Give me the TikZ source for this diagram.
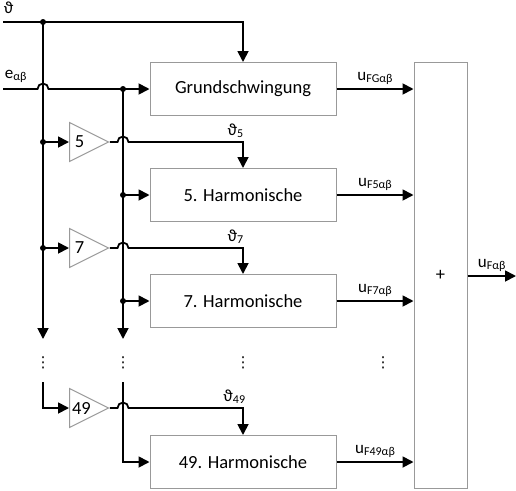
\documentclass[tikz,border=0pt]{standalone}
\usepackage{fontspec}
\setmainfont{Carlito}
\newfontfamily\symfont{DejaVu Sans}
\usetikzlibrary{arrows.meta,shapes.geometric,calc}

\newcommand\sig[2]{#1\raisebox{-1.5pt}{\fontsize{12}{14}\selectfont #2}}

\begin{document}
\begin{tikzpicture}[x=1pt,y=-1pt, line width=1.8pt,
  >={Triangle[length=11pt,width=11pt]},
  font=\fontsize{18.5}{22}\selectfont,
  blk/.style={draw=black!40, line width=1pt, minimum width=186pt, minimum height=53pt, inner sep=0pt},
  amp/.style={draw=black!40, line width=1pt, isosceles triangle, isosceles triangle stretches,
    minimum width=39pt, minimum height=39pt, inner sep=0pt, anchor=west},
  lbl/.style={inner sep=1pt, font=\fontsize{17}{20}\selectfont},
  dot/.style={circle, fill, inner sep=0pt, minimum size=6pt},
  cont/.style={font=\symfont\fontsize{15}{18}\selectfont, inner sep=0pt}]
\useasboundingbox (0,0) rectangle (516,490);

% blocks
\node[blk] (g) at (243,89) {Grundschwingung};
\node[blk] (h5) at (243,195) {5. Harmonische};
\node[blk] (h7) at (243,301) {7. Harmonische};
\node[blk] (h49) at (243,462) {49. Harmonische};
\node[draw=black!40, line width=1pt, minimum width=53pt, minimum height=426pt] (sum) at (440.5,275) {+};

% gains
\node[amp] (k5) at (69,142) {5};
\node[amp] (k7) at (69,248) {7};
\node[amp] (k49) at (69,408) {49};

% branch points
\coordinate (th) at (3,22);
\coordinate (e) at (3,89);
\node[dot] (t1) at (43,22) {};
\node[dot] (e1) at (123,89) {};
\node[dot] (t5) at (43,142) {};
\node[dot] (t7) at (43,248) {};
\node[dot] (e5) at (123,195) {};
\node[dot] (e7) at (123,301) {};
\coordinate (ta) at (43,339);
\coordinate (ea) at (123,339);
\coordinate (tb) at (43,382);
\coordinate (eb) at (123,382);
\coordinate (out) at (516,276);

% inputs
\node[lbl, anchor=south west] at (2,16) {ϑ};
\node[lbl, anchor=south west] at (3,84) {\sig{e}{αβ}};
\draw[->] (th) -- (t1.center) -| (g.north);
\draw[->] (e) -- ($(e -| t1)+(-5.5,0)$) arc(180:360:5.5) -- (e1.center) -- (g.west);
\draw[->] (t1.center) -- (ta);
\draw[->] (e1.center) -- (ea);

% harmonics
\draw[->] (t5.center) -- (k5.west);
\draw[->] (t7.center) -- (k7.west);
\draw[->] (e5.center) -- (h5.west);
\draw[->] (e7.center) -- (h7.west);
\draw[->] (k5.apex) -- ($(k5.apex -| e1)+(-5.5,0)$) arc(180:360:5.5) -| (h5.north)
  node[lbl, pos=0.5, anchor=south east, xshift=2pt, yshift=3pt] {\sig{ϑ}{5}};
\draw[->] (k7.apex) -- ($(k7.apex -| e1)+(-5.5,0)$) arc(180:360:5.5) -| (h7.north)
  node[lbl, pos=0.5, anchor=south east, xshift=2pt, yshift=3pt] {\sig{ϑ}{7}};
\draw[->] (tb) |- (k49.west);
\draw[->] (eb) |- (h49.west);
\draw[->] (k49.apex) -- ($(k49.apex -| e1)+(-5.5,0)$) arc(180:360:5.5) -| (h49.north)
  node[lbl, pos=0.5, anchor=south east, xshift=4pt, yshift=3pt] {\sig{ϑ}{49}};

% outputs
\draw[->] (g.east) -- (g.east -| sum.west) node[lbl, midway, above=3pt] {\sig{u}{FGαβ}};
\draw[->] (h5.east) -- (h5.east -| sum.west) node[lbl, midway, above=3pt] {\sig{u}{F5αβ}};
\draw[->] (h7.east) -- (h7.east -| sum.west) node[lbl, midway, above=3pt] {\sig{u}{F7αβ}};
\draw[->] (h49.east) -- (h49.east -| sum.west) node[lbl, midway, above=3pt] {\sig{u}{F49αβ}};
\draw[->] (sum.east |- out) -- (out) node[lbl, midway, above=3pt] {\sig{u}{Fαβ}};

% continuation dots
\node[cont] at (43,363) {⋮};
\node[cont] at (123,363) {⋮};
\node[cont] at (243,363) {⋮};
\node[cont] at (383,363) {⋮};
\end{tikzpicture}
\end{document}
